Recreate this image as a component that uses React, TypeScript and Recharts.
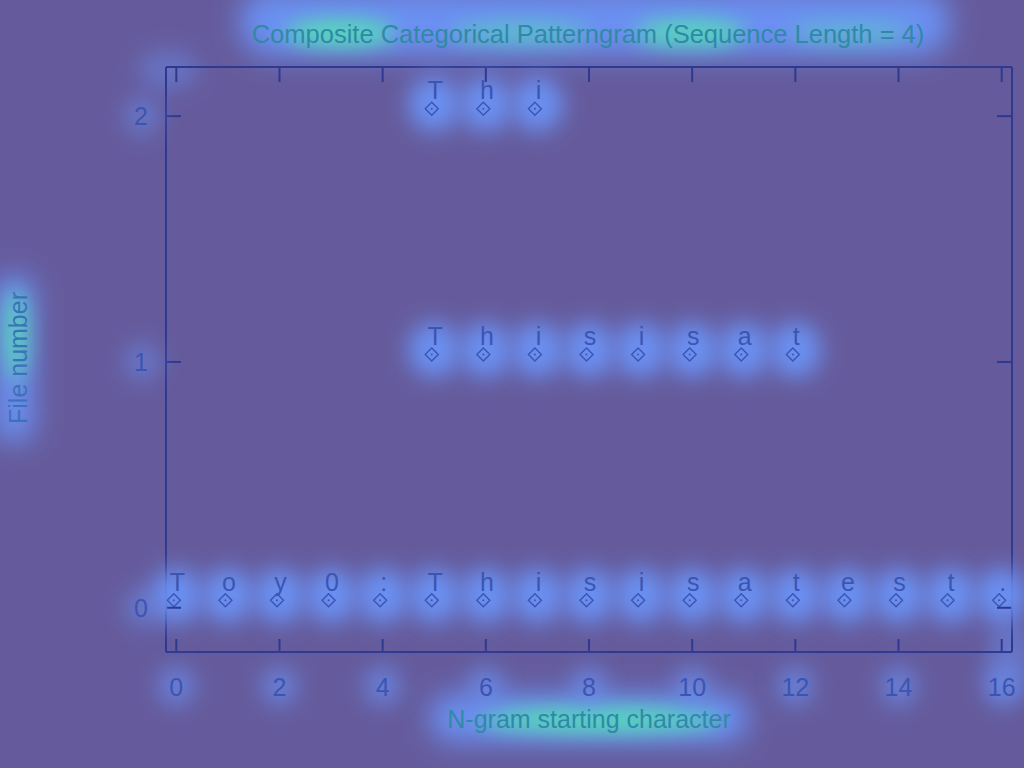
import React from 'react';
import { ScatterChart, Scatter, XAxis, YAxis } from 'recharts';

const titleText = 'Composite Categorical Patterngram (Sequence Length = 4)';
const xLabel = 'N-gram starting character';
const yLabel = 'File number';

const xTicks = [0, 2, 4, 6, 8, 10, 12, 14, 16];
const yTicks = [0, 1, 2];

const file0Chars = ['T', 'o', 'y', '0', ':', 'T', 'h', 'i', 's', 'i', 's', 'a', 't', 'e', 's', 't', '.'];
const file0Pos = [0, 1, 2, 3, 4, 5, 6, 7, 8, 9, 10, 11, 12, 13, 14, 15, 16];
const file1Chars = ['T', 'h', 'i', 's', 'i', 's', 'a', 't'];
const file1Pos = [5, 6, 7, 8, 9, 10, 11, 12];
const file2Chars = ['T', 'h', 'i'];
const file2Pos = [5, 6, 7];

const BG = '#655b9c';
const TEXT = '#3b55b2';
const FRAME = '#2e3990';
const GLOW = '#6b90f2';
const GREEN = '#52e6b0';
const FONT = '"Liberation Sans", Arial, sans-serif';

const build = (file: number, pos: number[], chars: string[]) =>
  pos.map((p, i) => ({ x: p, y: file, ch: chars[i] }));

const allData = [
  ...build(0, file0Pos, file0Chars),
  ...build(1, file1Pos, file1Chars),
  ...build(2, file2Pos, file2Chars),
];

const GlowShape = (props: any) => {
  const { cx, cy } = props;
  return (
    <ellipse cx={cx} cy={cy - 12} rx={26} ry={28} fill={GLOW} opacity={1} filter="url(#blurBig)" />
  );
};

const NoShape = () => <g />;

const MarkShape = (props: any) => {
  const { cx, cy, payload } = props;
  const dx = cx - 2.5;
  const dy = cy - 7.5;
  const s = 6.5;
  return (
    <g>
      <text x={cx + 1} y={cy - 17} textAnchor="middle" fontSize={25} fontFamily={FONT} fill={TEXT}>
        {payload.ch}
      </text>
      <path
        d={`M${dx} ${dy - s}L${dx + s} ${dy}L${dx} ${dy + s}L${dx - s} ${dy}Z`}
        fill="none"
        stroke={TEXT}
        strokeWidth={1.4}
      />
      <circle cx={dx} cy={dy} r={1} fill={TEXT} />
    </g>
  );
};

const makeTick = (side: 'bottom' | 'top' | 'left' | 'right', len: number) => (props: any) => {
  const { x, y, payload } = props;
  if (side === 'bottom') {
    return (
      <g>
        <line x1={x} y1={y - 1} x2={x} y2={y - 1 - len} stroke={FRAME} strokeWidth={2} />
        <ellipse cx={x} cy={y + 34} rx={18} ry={20} fill={GLOW} opacity={0.7} filter="url(#blurBig)" />
        <text x={x} y={y + 44} textAnchor="middle" fontSize={25} fontFamily={FONT} fill={TEXT}>
          {payload.value}
        </text>
      </g>
    );
  }
  if (side === 'top') {
    return <line x1={x} y1={y + 1} x2={x} y2={y + 1 + len} stroke={FRAME} strokeWidth={2} />;
  }
  if (side === 'left') {
    return (
      <g>
        <line x1={x + 1} y1={y} x2={x + 1 + len} y2={y} stroke={FRAME} strokeWidth={2} />
        <ellipse cx={x - 24} cy={y} rx={18} ry={20} fill={GLOW} opacity={0.5} filter="url(#blurBig)" />
        <text x={x - 18} y={y + 9} textAnchor="end" fontSize={25} fontFamily={FONT} fill={TEXT}>
          {payload.value}
        </text>
      </g>
    );
  }
  return <line x1={x - 1} y1={y} x2={x - 1 - len} y2={y} stroke={FRAME} strokeWidth={2} />;
};

const Defs = () => (
  <svg width={1024} height={768} style={{ position: 'absolute', left: 0, top: 0, pointerEvents: 'none' }}>
    <defs>
      <filter id="blurBig" filterUnits="userSpaceOnUse" x={-2000} y={-2000} width={4000} height={4000}>
        <feGaussianBlur stdDeviation={11} />
      </filter>
      <filter id="blurMid" filterUnits="userSpaceOnUse" x={-2000} y={-2000} width={4000} height={4000}>
        <feGaussianBlur stdDeviation={14} />
      </filter>
      <filter id="blurSmall" filterUnits="userSpaceOnUse" x={-2000} y={-2000} width={4000} height={4000}>
        <feGaussianBlur stdDeviation={10} />
      </filter>
    </defs>
  </svg>
);

const Glows = () => (
  <svg width={1024} height={768} style={{ position: 'absolute', left: 0, top: 0, pointerEvents: 'none' }}>
    {/* title */}
    <rect x={240} y={-10} width={710} height={66} rx={30} fill={GLOW} filter="url(#blurMid)" />
    <ellipse cx={340} cy={33} rx={55} ry={14} fill={GREEN} opacity={0.85} filter="url(#blurSmall)" />
    <ellipse cx={690} cy={33} rx={55} ry={14} fill={GREEN} opacity={0.8} filter="url(#blurSmall)" />
    <ellipse cx={520} cy={33} rx={70} ry={12} fill={GREEN} opacity={0.5} filter="url(#blurSmall)" />
    <ellipse cx={850} cy={33} rx={60} ry={12} fill={GREEN} opacity={0.4} filter="url(#blurSmall)" />
    {/* x label */}
    <rect x={430} y={694} width={318} height={48} rx={22} fill={GLOW} filter="url(#blurMid)" />
    <ellipse cx={600} cy={720} rx={120} ry={13} fill={GREEN} opacity={0.85} filter="url(#blurSmall)" />
    {/* y label */}
    <rect x={-6} y={275} width={40} height={168} rx={18} fill={GLOW} filter="url(#blurMid)" />
    <ellipse cx={16} cy={335} rx={12} ry={45} fill={GREEN} opacity={0.75} filter="url(#blurSmall)" />
    {/* corner glows */}
    <ellipse cx={168} cy={70} rx={30} ry={20} fill={GLOW} opacity={0.45} filter="url(#blurBig)" />
    <ellipse cx={1010} cy={660} rx={22} ry={40} fill={GLOW} opacity={0.5} filter="url(#blurBig)" />
  </svg>
);

const Texts = () => (
  <svg width={1024} height={768} style={{ position: 'absolute', left: 0, top: 0, pointerEvents: 'none' }}>
    <text x={588} y={43} textAnchor="middle" fontSize={25.5} fontFamily={FONT} fill="#2f8aa6">
      {titleText}
    </text>
    <text x={589} y={728} textAnchor="middle" fontSize={25} fontFamily={FONT} fill="#2f8aa6">
      {xLabel}
    </text>
    <text transform="translate(27,358) rotate(-90)" x={0} y={0} textAnchor="middle" fontSize={25} fontFamily={FONT} fill="#3a74b8">
      {yLabel}
    </text>
  </svg>
);

export default function App() {
  return (
    <div style={{ position: 'absolute', left: 0, top: 0, width: 1024, height: 768, background: BG, overflow: 'hidden' }}>
      <Defs />
      <Glows />
      <div style={{ position: 'absolute', left: 0, top: 0 }}>
        <ScatterChart width={1024} height={768} margin={{ top: 66, right: 11, bottom: 115, left: 165 }}>
          <XAxis
            xAxisId="b"
            dataKey="x"
            type="number"
            orientation="bottom"
            domain={[-0.2, 16.2]}
            ticks={xTicks}
            interval={0}
            height={1}
            tickSize={0}
            tickMargin={0}
            tickLine={false}
            axisLine={{ stroke: FRAME, strokeWidth: 2 }}
            tick={makeTick('bottom', 12)}
          />
          <XAxis
            xAxisId="t"
            dataKey="x"
            type="number"
            orientation="top"
            domain={[-0.2, 16.2]}
            ticks={xTicks}
            interval={0}
            height={1}
            tickSize={0}
            tickMargin={0}
            tickLine={false}
            axisLine={{ stroke: FRAME, strokeWidth: 2 }}
            tick={makeTick('top', 14)}
          />
          <YAxis
            yAxisId="l"
            dataKey="y"
            type="number"
            orientation="left"
            domain={[-0.18, 2.2]}
            ticks={yTicks}
            interval={0}
            width={1}
            tickSize={0}
            tickMargin={0}
            tickLine={false}
            axisLine={{ stroke: FRAME, strokeWidth: 2 }}
            tick={makeTick('left', 14)}
          />
          <YAxis
            yAxisId="r"
            dataKey="y"
            type="number"
            orientation="right"
            domain={[-0.18, 2.2]}
            ticks={yTicks}
            interval={0}
            width={1}
            tickSize={0}
            tickMargin={0}
            tickLine={false}
            axisLine={{ stroke: FRAME, strokeWidth: 2 }}
            tick={makeTick('right', 14)}
          />
          <Scatter data={allData} xAxisId="t" yAxisId="r" shape={NoShape} isAnimationActive={false} />
          <Scatter data={allData} xAxisId="b" yAxisId="l" shape={GlowShape} isAnimationActive={false} />
          <Scatter data={allData} xAxisId="b" yAxisId="l" shape={MarkShape} isAnimationActive={false} />
        </ScatterChart>
      </div>
      <Texts />
    </div>
  );
}
